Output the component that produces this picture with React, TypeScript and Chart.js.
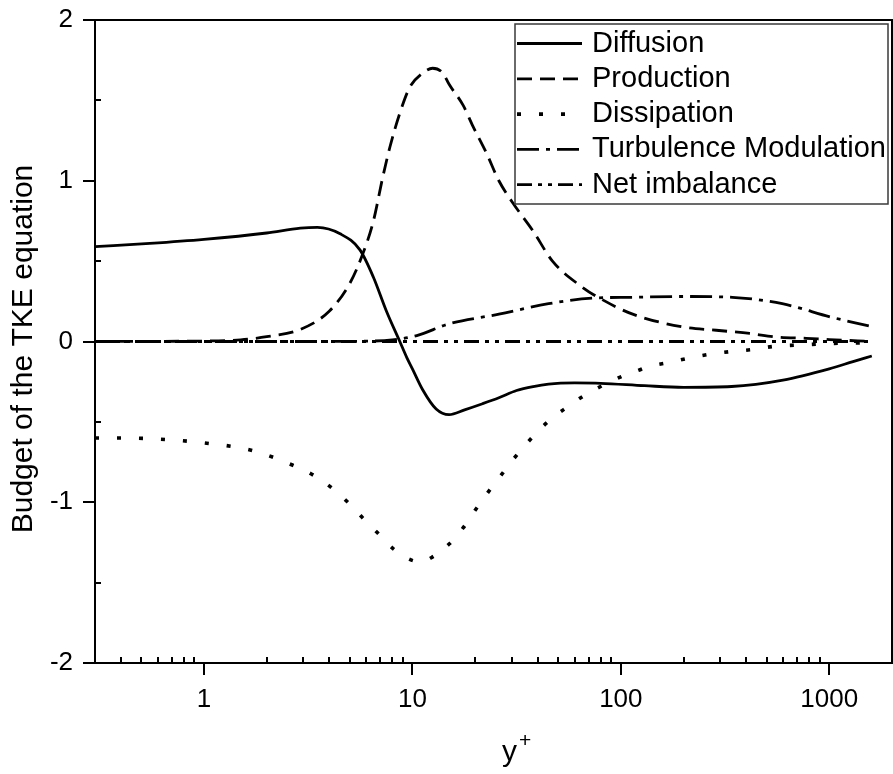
import { useEffect, useRef } from 'react';
import { Chart, registerables } from 'chart.js';

Chart.register(...registerables);

const FONT = "'Liberation Sans', Arial, sans-serif";

// ---- data ----
const diffusionX = [0.3, 0.55, 1, 2, 2.9, 3.5, 4.5, 5.6, 6.5, 7.5, 8.7, 9.4, 10, 11.2, 13, 15, 17.8, 21.7, 26, 31.6, 38, 45, 60, 80, 130, 200, 340, 600, 1000, 1300, 1600];
const diffusionY = [0.59, 0.61, 0.635, 0.675, 0.705, 0.71, 0.67, 0.57, 0.4, 0.19, 0.0, -0.1, -0.17, -0.3, -0.42, -0.455, -0.425, -0.387, -0.35, -0.305, -0.28, -0.265, -0.258, -0.26, -0.275, -0.285, -0.28, -0.24, -0.17, -0.125, -0.09];

const productionX = [0.3, 1, 1.5, 2, 2.9, 4, 5, 5.8, 6.5, 7.2, 7.8, 8.7, 9.7, 11.2, 12.5, 14, 15, 17.5, 19.5, 22.7, 26, 30.4, 37.8, 47, 65, 79, 114, 200, 287, 415, 560, 775, 1000, 1600];
const productionY = [0.0, 0.003, 0.01, 0.03, 0.075, 0.19, 0.36, 0.55, 0.75, 1.02, 1.21, 1.42, 1.58, 1.67, 1.7, 1.67, 1.6, 1.47, 1.34, 1.17, 1.0, 0.86, 0.69, 0.5, 0.34, 0.27, 0.17, 0.09, 0.07, 0.05, 0.028, 0.02, 0.012, 0.0];

const dissipationX = [0.3, 0.4, 1.07, 1.72, 2.67, 3.33, 4.1, 4.9, 5.8, 6.8, 8.1, 9.9, 11, 12.5, 15, 17.5, 20, 23, 26.7, 30.6, 38.6, 46, 55, 67, 98, 121, 137, 171, 218, 265, 340, 428, 545, 770, 980, 1600];
const dissipationY = [-0.6, -0.6, -0.635, -0.68, -0.77, -0.83, -0.91, -1.0, -1.1, -1.19, -1.29, -1.36, -1.37, -1.34, -1.26, -1.16, -1.05, -0.94, -0.83, -0.73, -0.58, -0.485, -0.41, -0.335, -0.225, -0.18, -0.155, -0.13, -0.1, -0.08, -0.062, -0.05, -0.03, -0.02, -0.013, -0.007];

const modulationX = [0.3, 1, 3, 6, 8, 10.5, 15, 26, 45, 73, 113, 198, 343, 595, 1032, 1600];
const modulationY = [0, 0, 0, 0.002, 0.01, 0.037, 0.11, 0.17, 0.235, 0.27, 0.275, 0.28, 0.275, 0.235, 0.15, 0.093];

const imbalanceX = [0.3, 10, 100, 1600];
const imbalanceY = [0, 0, 0, 0];

const seriesNames = ['Diffusion', 'Production', 'Dissipation', 'Turbulence Modulation', 'Net imbalance'];
const seriesDashes: number[][] = [[], [15, 8], [4, 18], [22, 7, 4, 7], [15, 6, 4, 6, 4, 6]];
const seriesWidths = [2.8, 2.8, 3.6, 2.8, 2.8];

const xMajorTicks = [1, 10, 100, 1000];
const xMinorTicks = [0.4, 0.5, 0.6, 0.7, 0.8, 0.9, 2, 3, 4, 5, 6, 7, 8, 9, 20, 30, 40, 50, 60, 70, 80, 90, 200, 300, 400, 500, 600, 700, 800, 900];
const yMinorTicks = [-1.5, -0.5, 0.5, 1.5];

const xTitle = 'y';
const xTitleSup = '+';
const yTitle = 'Budget of the TKE equation';

const zip = (xs: number[], ys: number[]) => xs.map((x, i) => ({ x, y: ys[i] }));

const framePlugin = {
  id: 'frame',
  afterDraw(chart: any) {
    const { ctx, chartArea: a, scales } = chart;
    ctx.save();
    // top and right frame lines
    ctx.strokeStyle = '#000';
    ctx.lineWidth = 2;
    ctx.beginPath();
    ctx.moveTo(a.left, a.top);
    ctx.lineTo(a.right, a.top);
    ctx.lineTo(a.right, a.bottom);
    ctx.stroke();
    // minor ticks (inward)
    ctx.lineWidth = 2;
    ctx.beginPath();
    xMinorTicks.forEach((v) => {
      const px = Math.round(scales.x.getPixelForValue(v));
      ctx.moveTo(px, a.bottom);
      ctx.lineTo(px, a.bottom - 6);
    });
    yMinorTicks.forEach((v) => {
      const py = Math.round(scales.y.getPixelForValue(v));
      ctx.moveTo(a.left, py);
      ctx.lineTo(a.left + 6, py);
    });
    ctx.stroke();

    // legend box
    const bw = 373, bh = 180;
    const bx = a.right - 4 - bw;
    const by = a.top + 4;
    ctx.fillStyle = '#fff';
    ctx.fillRect(bx, by, bw, bh);
    ctx.strokeStyle = '#3a3a3a';
    ctx.lineWidth = 1.5;
    ctx.strokeRect(bx, by, bw, bh);
    ctx.font = `29px ${FONT}`;
    ctx.textBaseline = 'middle';
    ctx.textAlign = 'left';
    chart.data.datasets.forEach((ds: any, i: number) => {
      const ry = by + 19.5 + i * 35.3;
      ctx.save();
      ctx.strokeStyle = '#000';
      ctx.lineWidth = ds.borderWidth;
      ctx.setLineDash(ds.borderDash || []);
      ctx.beginPath();
      ctx.moveTo(bx + 2, ry);
      ctx.lineTo(bx + 67, ry);
      ctx.stroke();
      ctx.restore();
      ctx.fillStyle = '#000';
      ctx.fillText(ds.label, bx + 77, ry);
    });

    // axis titles
    ctx.fillStyle = '#000';
    ctx.font = `30px ${FONT}`;
    ctx.textAlign = 'left';
    ctx.textBaseline = 'alphabetic';
    const tx = 502;
    const ty = 761;
    ctx.fillText(xTitle, tx, ty);
    const yw = ctx.measureText(xTitle).width;
    ctx.font = `21px ${FONT}`;
    ctx.fillText(xTitleSup, tx + yw + 2, 747);

    ctx.save();
    ctx.translate(24, 349);
    ctx.rotate(-Math.PI / 2);
    ctx.font = `30px ${FONT}`;
    ctx.textAlign = 'center';
    ctx.textBaseline = 'middle';
    ctx.fillText(yTitle, 0, 0);
    ctx.restore();
    ctx.restore();
  },
};

export default function App() {
  const ref = useRef<HTMLCanvasElement>(null);
  useEffect(() => {
    const data = [
      zip(diffusionX, diffusionY),
      zip(productionX, productionY),
      zip(dissipationX, dissipationY),
      zip(modulationX, modulationY),
      zip(imbalanceX, imbalanceY),
    ];
    const chart = new Chart(ref.current as HTMLCanvasElement, {
      type: 'line',
      data: {
        datasets: data.map((d, i) => ({
          label: seriesNames[i],
          data: d,
          borderColor: '#000',
          backgroundColor: '#000',
          borderWidth: seriesWidths[i],
          borderDash: seriesDashes[i],
          pointRadius: 0,
          fill: false,
          cubicInterpolationMode: 'monotone' as const,
        })),
      },
      options: {
        animation: false,
        responsive: false,
        maintainAspectRatio: false,
        layout: { padding: { top: 20, right: 1, left: 0, bottom: 0 } },
        plugins: { legend: { display: false }, tooltip: { enabled: false } },
        scales: {
          x: {
            type: 'logarithmic',
            min: 0.3,
            max: 2000,
            afterBuildTicks: (s: any) => {
              s.ticks = xMajorTicks.map((v) => ({ value: v, major: true }));
            },
            afterFit: (s: any) => {
              s.height = 111;
              s.paddingLeft = 0;
              s.paddingRight = 0;
            },
            ticks: {
              callback: (v: any) => String(v),
              color: '#000',
              font: { family: FONT, size: 26 },
              padding: 9,
              maxRotation: 0,
              autoSkip: false,
            },
            grid: { drawOnChartArea: false, drawTicks: true, tickLength: 12, color: '#000', lineWidth: 2 },
            border: { display: true, color: '#000', width: 2 },
          },
          y: {
            type: 'linear',
            min: -2,
            max: 2,
            afterFit: (s: any) => {
              s.width = 95;
              s.paddingTop = 0;
              s.paddingBottom = 0;
            },
            ticks: {
              stepSize: 1,
              color: '#000',
              font: { family: FONT, size: 26 },
              padding: 10,
            },
            grid: { drawOnChartArea: false, drawTicks: true, tickLength: 12, color: '#000', lineWidth: 2 },
            border: { display: true, color: '#000', width: 2 },
          },
        },
      },
      plugins: [framePlugin],
    });
    return () => chart.destroy();
  }, []);
  return (
    <div style={{ position: 'absolute', left: 0, top: 0, width: 893, height: 774, background: '#fff' }}>
      <canvas ref={ref} width={893} height={774} style={{ display: 'block', width: 893, height: 774 }} />
    </div>
  );
}
